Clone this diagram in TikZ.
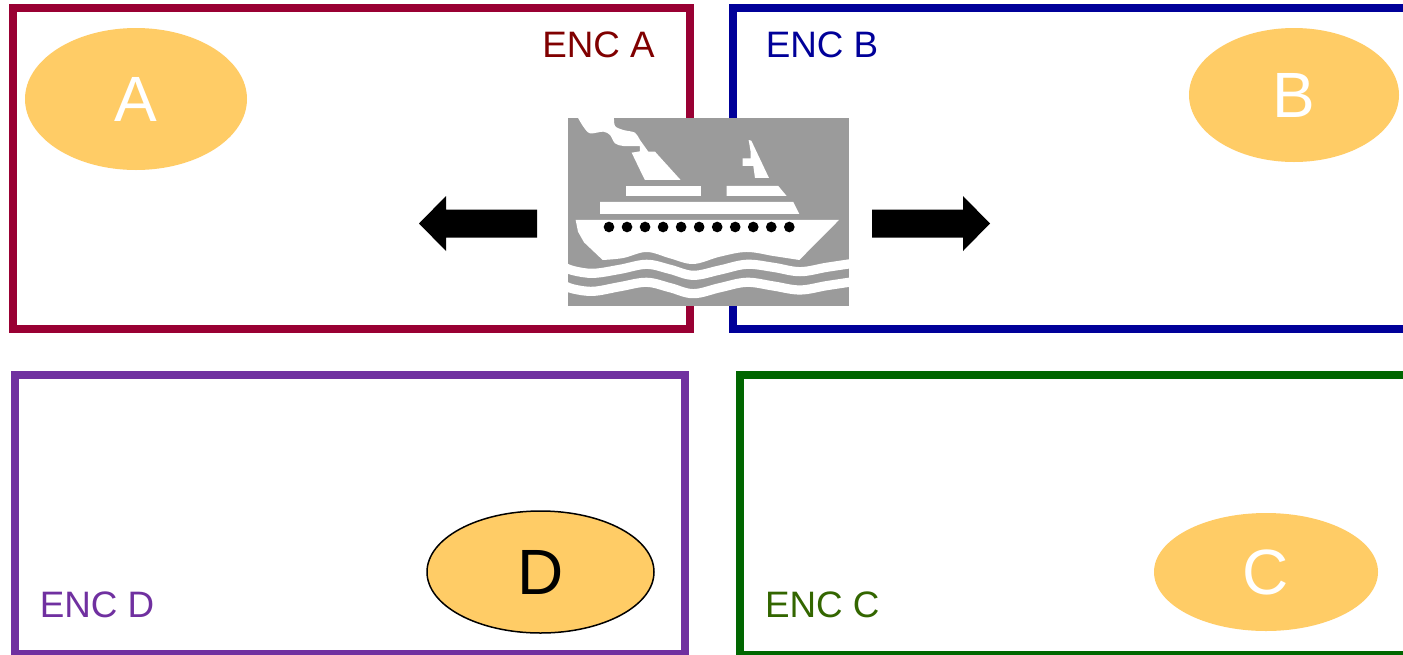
\documentclass[tikz,border=0pt]{standalone}
\usepackage{fontspec}
\setmainfont{Liberation Sans}
\definecolor{encA}{HTML}{990033}
\definecolor{encAt}{HTML}{800000}
\definecolor{encB}{HTML}{000099}
\definecolor{encC}{HTML}{006600}
\definecolor{encCt}{HTML}{336600}
\definecolor{encD}{HTML}{7030A0}
\definecolor{orb}{HTML}{FFCC66}
\definecolor{shipgray}{HTML}{9B9B9B}
\tikzset{
  x=1pt,y=-1pt,
  encbox/.style={line width=8pt,miter limit=10},
  enclabel/.style={font=\fontsize{36.8}{40}\selectfont,inner sep=0pt,anchor=center},
  orbnode/.style={ellipse,fill=orb,inner sep=0pt,font=\fontsize{64}{70}\selectfont,text=white},
  blockarrow/.style={fill=black},
  shippart/.style={fill=white,draw=none},
  wave/.style={draw=white,line width=9.2pt,line join=round}
}
\usetikzlibrary{shapes.geometric}
\begin{document}
\begin{tikzpicture}
\useasboundingbox (0,0) rectangle (1403,654);
\fill[white] (0,0) rectangle (1403,654);
% boxes
\draw[encbox,draw=encA] (13,8) rectangle (689.5,329.3);
\draw[encbox,draw=encB] (1430,8) -- (733,8) -- (733,329.3) -- (1430,329.3);
\draw[encbox,draw=encD] (15,375) rectangle (684.7,654.3);
\draw[encbox,draw=encC] (1430,375) -- (740,375) -- (740,654.5) -- (1430,654.5);
% labels
\node[enclabel,text=encAt] (la) at (598.5,45) {ENC A};
\node[enclabel,text=encB] (lb) at (822,45) {ENC B};
\node[enclabel,text=encCt] (lc) at (822.3,605) {ENC C};
\node[enclabel,text=encD] (ld) at (97,605) {ENC D};
% ellipses
\node[orbnode,minimum width=222pt,minimum height=142pt] (A) at (136,99) {\raisebox{-1pt}{A}};
\node[orbnode,minimum width=210pt,minimum height=134pt] (B) at (1294,95) {\raisebox{-1pt}{B}};
\node[orbnode,minimum width=224pt,minimum height=118pt] (C) at (1266,572) {\raisebox{-1pt}{C}};
\node[orbnode,draw=black,line width=1.5pt,text=black,minimum width=227pt,minimum height=122pt] (D) at (540.5,572) {\raisebox{-1pt}{D}};
% ship
\fill[shipgray] (568,118) rectangle (849,306);
\begin{scope}[shift={(560,110)},x=0.3333pt,y=-0.3333pt]
  \clip (24,24) rectangle (867,588);
  \fill[shippart] plot[smooth,tension=0.5] coordinates {(52,20) (70,50) (90,70) (130,65) (150,75) (165,100) (190,108) (240,108)} -- (240,124) -- (215,128) -- (240,180) -- (255,210) -- (362,210) -- (285,125) -- (265,125) -- plot[smooth,tension=0.5] coordinates {(265,125) (240,90) (225,68) (190,60) (165,48) (162,20)} -- cycle;
  \fill[shippart] (566,90) -- (574,92) -- (627,204) -- (585,204) -- (580,168) -- (548,168) -- (548,145) -- (572,145) -- (572,125) -- cycle;
  \fill[shippart] (198,228) -- (422,228) -- (422,258) -- (198,258) -- cycle;
  \fill[shippart] (500,228) -- (655,228) -- (680,258) -- (500,258) -- cycle;
  \fill[shippart] (120,276) -- (700,276) -- (718,312) -- (120,312) -- cycle;
  \fill[shippart] (47,330) -- (837,330) -- (718,450) -- plot[smooth,tension=0.6] coordinates {(718,450) (640,438) (560,426) (480,440) (400,462) (330,445) (260,426) (190,444) (128,450)} -- (72,397) -- (54,365) -- cycle;
  \foreach \i in {0,...,10} \fill[black] (147+54.1*\i,351) circle (16);
  \draw[wave] plot[smooth,tension=0.6] coordinates {(10,470) (40,482) (100,490) (180,478) (260,463) (330,478) (400,496) (480,480) (560,463) (640,472) (720,485) (800,472) (880,460)};
  \draw[wave] plot[smooth,tension=0.6] coordinates {(10,525) (40,537) (100,544) (180,530) (260,517) (330,533) (400,551) (480,533) (560,517) (640,528) (720,540) (800,527) (880,515)};
\end{scope}
% arrows
\fill[blockarrow] (537,209.5) -- (446,209.5) -- (446,196) -- (419,223.5) -- (446,251) -- (446,237.5) -- (537,237.5) -- cycle;
\fill[blockarrow] (872,209.5) -- (963,209.5) -- (963,196) -- (990,223.5) -- (963,251) -- (963,237.5) -- (872,237.5) -- cycle;
\end{tikzpicture}
\end{document}
